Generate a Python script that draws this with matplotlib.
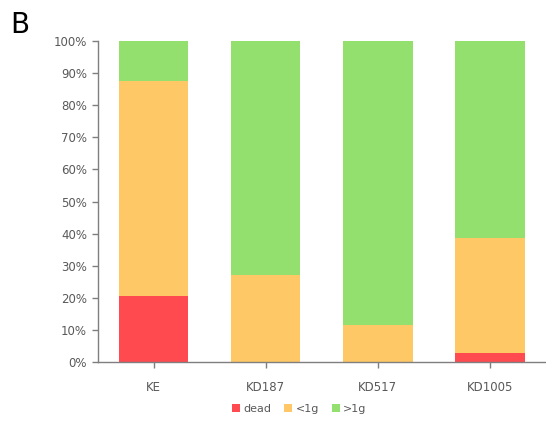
import numpy as np
import matplotlib
matplotlib.use('Agg')
import matplotlib.pyplot as plt
from matplotlib.ticker import PercentFormatter

# dados (% por grupo)
grupos = ['KE', 'KD187', 'KD517', 'KD1005']
dead = [20.6, 0.0, 0.0, 2.7]
menor_1g = [66.9, 27.0, 11.5, 36.0]
maior_1g = [12.5, 73.0, 88.5, 61.3]
series = ['dead', '<1g', '>1g']
cores = ['#FF4A4F', '#FFC866', '#93E06F']

fig = plt.figure(figsize=(5.46, 4.23), dpi=100)
ax = fig.add_axes([0.1786, 0.1442, 0.8214, 0.7588])

x = np.arange(len(grupos))
base = np.zeros(len(grupos))
for nome, vals, cor in zip(series, [dead, menor_1g, maior_1g], cores):
    ax.bar(x, vals, width=0.62, bottom=base, color=cor, label=nome, linewidth=0)
    base += np.array(vals)

ax.set_xlim(-0.5, 3.5)
ax.set_ylim(0, 100)
ax.set_yticks(np.arange(0, 101, 10))
ax.yaxis.set_major_formatter(PercentFormatter(decimals=0))
ax.set_xticks(x)
ax.set_xticklabels(grupos)

cinza = '#7F7F7F'
for lado in ['top', 'right']:
    ax.spines[lado].set_visible(False)
for lado in ['left', 'bottom']:
    ax.spines[lado].set_color(cinza)
    ax.spines[lado].set_linewidth(1.0)
ax.tick_params(axis='both', colors=cinza, labelcolor='#595959', labelsize=8.5,
               length=4, width=1.0)
ax.tick_params(axis='x', pad=10)

fig.text(0.018, 0.975, 'B', fontsize=20, va='top', ha='left', color='black')

ax.legend(loc='center', bbox_to_anchor=(0.45, -0.145), ncol=3, frameon=False,
          fontsize=8, handlelength=0.7, handleheight=0.7, handletextpad=0.3,
          columnspacing=1.2, labelcolor='#595959')

fig.savefig('out.png', dpi=100)
